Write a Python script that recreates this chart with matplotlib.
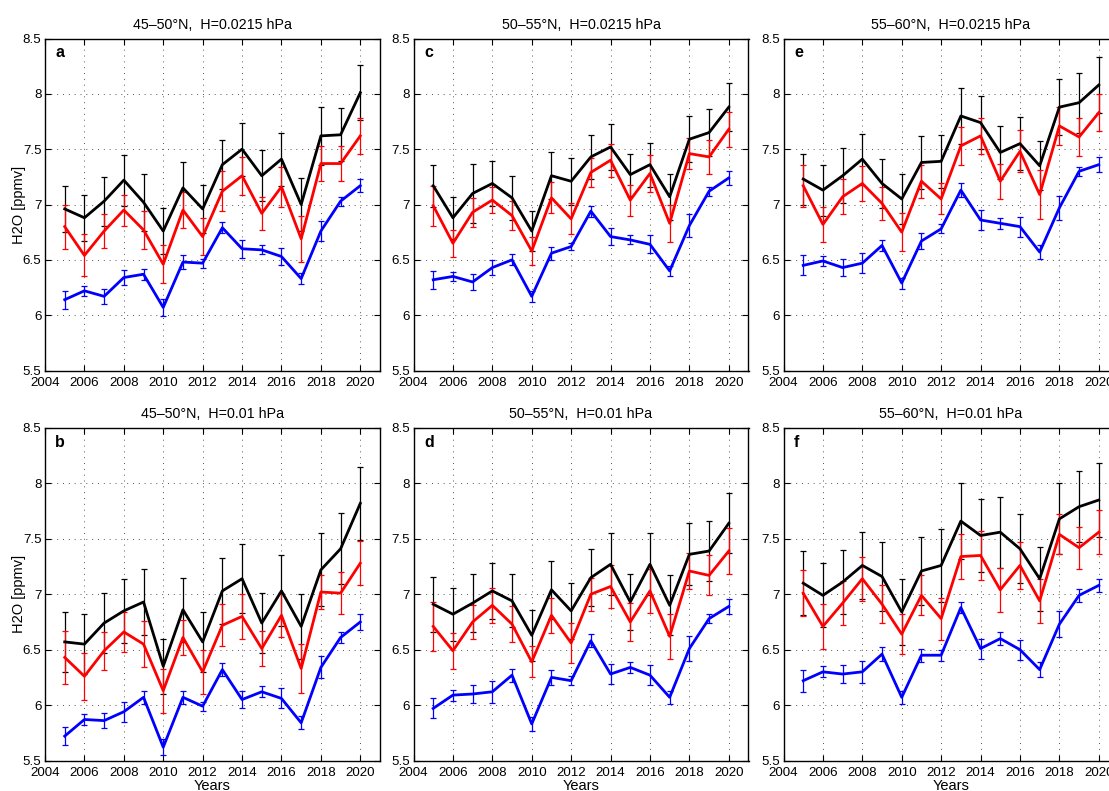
import matplotlib
matplotlib.use("Agg")
import matplotlib.pyplot as plt
from matplotlib.ticker import FuncFormatter, MultipleLocator

plt.rcParams['font.family'] = ['Liberation Sans', 'DejaVu Sans']

years = list(range(2005, 2021))

# 45-50N, H=0.0215 hPa
a_black = [6.96, 6.88, 7.03, 7.22, 7.02, 6.76, 7.15, 6.96, 7.36, 7.50, 7.26, 7.41, 7.00, 7.62, 7.63, 8.01]
a_black_err = [0.21, 0.21, 0.22, 0.23, 0.26, 0.21, 0.23, 0.22, 0.22, 0.24, 0.23, 0.24, 0.24, 0.26, 0.24, 0.25]
a_red = [6.80, 6.54, 6.76, 6.95, 6.77, 6.46, 6.95, 6.71, 7.12, 7.26, 6.92, 7.16, 6.69, 7.37, 7.37, 7.62]
a_red_err = [0.20, 0.19, 0.15, 0.14, 0.17, 0.17, 0.16, 0.17, 0.18, 0.17, 0.15, 0.18, 0.21, 0.16, 0.16, 0.16]
a_blue = [6.14, 6.22, 6.17, 6.34, 6.37, 6.07, 6.48, 6.47, 6.79, 6.60, 6.59, 6.53, 6.33, 6.76, 7.03, 7.17]
a_blue_err = [0.08, 0.045, 0.07, 0.07, 0.05, 0.08, 0.06, 0.04, 0.05, 0.08, 0.04, 0.08, 0.05, 0.09, 0.04, 0.06]

# 45-50N, H=0.01 hPa
b_black = [6.57, 6.55, 6.74, 6.85, 6.93, 6.35, 6.86, 6.57, 7.03, 7.14, 6.74, 7.03, 6.71, 7.22, 7.41, 7.82]
b_black_err = [0.27, 0.27, 0.27, 0.29, 0.30, 0.25, 0.29, 0.27, 0.30, 0.31, 0.27, 0.32, 0.29, 0.33, 0.32, 0.33]
b_red = [6.43, 6.26, 6.49, 6.66, 6.55, 6.13, 6.61, 6.30, 6.72, 6.80, 6.51, 6.81, 6.33, 7.02, 7.01, 7.28]
b_red_err = [0.24, 0.21, 0.17, 0.18, 0.21, 0.20, 0.16, 0.20, 0.19, 0.20, 0.16, 0.20, 0.22, 0.15, 0.19, 0.20]
b_blue = [5.72, 5.87, 5.86, 5.94, 6.07, 5.62, 6.07, 5.99, 6.32, 6.05, 6.12, 6.06, 5.84, 6.34, 6.61, 6.75]
b_blue_err = [0.08, 0.05, 0.07, 0.09, 0.06, 0.07, 0.06, 0.04, 0.06, 0.08, 0.05, 0.09, 0.06, 0.10, 0.05, 0.07]

# 50-55N, H=0.0215 hPa
c_black = [7.17, 6.88, 7.10, 7.19, 7.06, 6.76, 7.26, 7.21, 7.43, 7.52, 7.27, 7.36, 7.07, 7.59, 7.65, 7.88]
c_black_err = [0.19, 0.19, 0.27, 0.20, 0.20, 0.18, 0.21, 0.21, 0.20, 0.21, 0.19, 0.20, 0.21, 0.21, 0.21, 0.22]
c_red = [6.99, 6.65, 6.93, 7.04, 6.90, 6.58, 7.06, 6.87, 7.29, 7.40, 7.04, 7.28, 6.83, 7.46, 7.43, 7.68]
c_red_err = [0.18, 0.12, 0.13, 0.12, 0.13, 0.13, 0.14, 0.14, 0.13, 0.15, 0.14, 0.17, 0.17, 0.14, 0.15, 0.16]
c_blue = [6.32, 6.35, 6.30, 6.43, 6.50, 6.17, 6.56, 6.62, 6.94, 6.71, 6.68, 6.64, 6.40, 6.81, 7.12, 7.24]
c_blue_err = [0.08, 0.04, 0.07, 0.07, 0.05, 0.05, 0.06, 0.03, 0.05, 0.08, 0.04, 0.08, 0.045, 0.10, 0.04, 0.06]

# 50-55N, H=0.01 hPa
d_black = [6.91, 6.82, 6.92, 7.03, 6.94, 6.63, 7.04, 6.85, 7.15, 7.27, 6.93, 7.27, 6.90, 7.36, 7.39, 7.64]
d_black_err = [0.25, 0.24, 0.26, 0.25, 0.24, 0.23, 0.26, 0.25, 0.26, 0.28, 0.25, 0.28, 0.27, 0.28, 0.27, 0.27]
d_red = [6.71, 6.49, 6.75, 6.90, 6.73, 6.39, 6.81, 6.56, 7.00, 7.07, 6.75, 7.03, 6.62, 7.21, 7.17, 7.39]
d_red_err = [0.22, 0.16, 0.15, 0.16, 0.16, 0.14, 0.16, 0.18, 0.15, 0.19, 0.17, 0.20, 0.20, 0.16, 0.18, 0.21]
d_blue = [5.97, 6.09, 6.10, 6.12, 6.27, 5.83, 6.25, 6.22, 6.58, 6.28, 6.34, 6.27, 6.07, 6.51, 6.78, 6.89]
d_blue_err = [0.09, 0.05, 0.08, 0.10, 0.06, 0.06, 0.07, 0.04, 0.06, 0.09, 0.05, 0.09, 0.06, 0.11, 0.04, 0.07]

# 55-60N, H=0.0215 hPa
e_black = [7.23, 7.13, 7.26, 7.41, 7.19, 7.05, 7.38, 7.39, 7.80, 7.74, 7.47, 7.55, 7.35, 7.88, 7.92, 8.08]
e_black_err = [0.23, 0.23, 0.25, 0.23, 0.22, 0.23, 0.24, 0.24, 0.25, 0.24, 0.24, 0.24, 0.22, 0.25, 0.27, 0.25]
e_red = [7.17, 6.82, 7.07, 7.19, 7.01, 6.75, 7.21, 7.05, 7.53, 7.62, 7.21, 7.48, 7.09, 7.71, 7.61, 7.83]
e_red_err = [0.19, 0.16, 0.16, 0.16, 0.15, 0.17, 0.15, 0.14, 0.17, 0.16, 0.16, 0.19, 0.22, 0.17, 0.17, 0.17]
e_blue = [6.45, 6.49, 6.43, 6.47, 6.63, 6.29, 6.67, 6.78, 7.13, 6.86, 6.83, 6.80, 6.57, 6.97, 7.30, 7.36]
e_blue_err = [0.09, 0.045, 0.08, 0.09, 0.05, 0.05, 0.07, 0.04, 0.06, 0.09, 0.05, 0.09, 0.06, 0.11, 0.04, 0.065]

# 55-60N, H=0.01 hPa
f_black = [7.10, 6.99, 7.11, 7.26, 7.16, 6.84, 7.21, 7.26, 7.66, 7.53, 7.56, 7.41, 7.14, 7.68, 7.79, 7.85]
f_black_err = [0.29, 0.29, 0.29, 0.30, 0.31, 0.30, 0.31, 0.33, 0.34, 0.33, 0.32, 0.31, 0.29, 0.32, 0.32, 0.33]
f_red = [7.01, 6.71, 6.92, 7.14, 6.91, 6.64, 6.99, 6.78, 7.34, 7.35, 7.04, 7.26, 6.94, 7.54, 7.42, 7.56]
f_red_err = [0.21, 0.20, 0.20, 0.20, 0.17, 0.18, 0.18, 0.19, 0.20, 0.22, 0.20, 0.21, 0.20, 0.18, 0.19, 0.20]
f_blue = [6.22, 6.30, 6.28, 6.30, 6.46, 6.07, 6.45, 6.45, 6.88, 6.51, 6.60, 6.50, 6.32, 6.73, 6.99, 7.08]
f_blue_err = [0.10, 0.05, 0.08, 0.10, 0.06, 0.06, 0.06, 0.05, 0.05, 0.09, 0.06, 0.09, 0.07, 0.12, 0.06, 0.06]

titles = {
    'a': '45\u201350\u00b0N,  H=0.0215 hPa', 'b': '45\u201350\u00b0N,  H=0.01 hPa',
    'c': '50\u201355\u00b0N,  H=0.0215 hPa', 'd': '50\u201355\u00b0N,  H=0.01 hPa',
    'e': '55\u201360\u00b0N,  H=0.0215 hPa', 'f': '55\u201360\u00b0N,  H=0.01 hPa',
}
panels = {
    'a': (a_black, a_black_err, a_red, a_red_err, a_blue, a_blue_err),
    'b': (b_black, b_black_err, b_red, b_red_err, b_blue, b_blue_err),
    'c': (c_black, c_black_err, c_red, c_red_err, c_blue, c_blue_err),
    'd': (d_black, d_black_err, d_red, d_red_err, d_blue, d_blue_err),
    'e': (e_black, e_black_err, e_red, e_red_err, e_blue, e_blue_err),
    'f': (f_black, f_black_err, f_red, f_red_err, f_blue, f_blue_err),
}

W, H = 1109, 791
fig = plt.figure(figsize=(W / 100, H / 100), dpi=100)

col_left = [45, 413.5, 783.5]
ax_w = 335
rows = [(38.5, 370.5), (428.0, 760.5)]
layout = {'a': (0, 0), 'c': (1, 0), 'e': (2, 0), 'b': (0, 1), 'd': (1, 1), 'f': (2, 1)}

fmt = FuncFormatter(lambda v, p: f'{v:g}')

for key, (ci, ri) in layout.items():
    top, bot = rows[ri]
    left = col_left[ci]
    ax_h = bot - top
    ax = fig.add_axes([left / W, 1 - bot / H, ax_w / W, ax_h / H])
    bk, bke, rd, rde, bl, ble = panels[key]
    for vals, errs, col in ((bk, bke, 'black'), (rd, rde, 'red'), (bl, ble, 'blue')):
        ax.errorbar(years, vals, yerr=errs, color=col, ecolor=col, lw=2.0,
                    elinewidth=0.9, capsize=2.0, capthick=0.9)
    ax.set_xlim(2004, 2021)
    ax.set_ylim(5.5, 8.5)
    ax.xaxis.set_major_locator(MultipleLocator(2))
    ax.yaxis.set_major_locator(MultipleLocator(0.5))
    ax.yaxis.set_major_formatter(fmt)
    ax.tick_params(direction='in', length=4, width=0.8, top=True, right=True,
                   labelsize=9.6)
    ax.tick_params(axis='x', pad=5)
    ax.tick_params(axis='y', pad=2.5)
    ax.grid(True, linestyle=(0, (1, 5)), color='#555555', linewidth=0.7)
    for s in ax.spines.values():
        s.set_linewidth(1.0)
    ax.set_title(titles[key], fontsize=10.3, pad=7)
    ax.text(0.031, 0.944, key, transform=ax.transAxes, fontsize=11.5,
            fontweight='bold', va='baseline', ha='left')
    if ci == 0:
        ax.set_ylabel('H2O [ppmv]', fontsize=10.5)
        ax.yaxis.set_label_coords(-26 / ax_w, 0.5)
        ax.yaxis.label.set_va('center')
    if ri == 1:
        ax.set_xlabel('Years', fontsize=10.5)
        ax.xaxis.set_label_coords(0.5, -25 / ax_h)
        ax.xaxis.label.set_va('center')

fig.savefig('out.png', dpi=100)
